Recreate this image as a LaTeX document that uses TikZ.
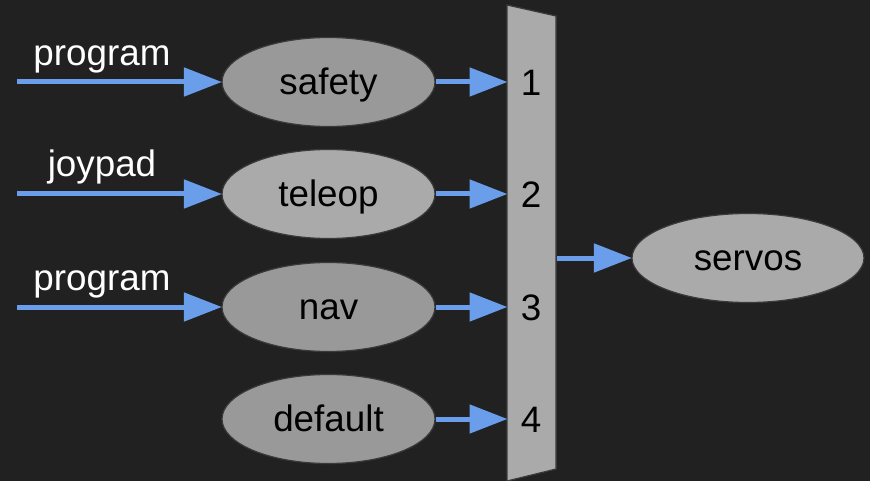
\documentclass[tikz,border=0pt]{standalone}
\usepackage{fontspec}
\setmainfont{Liberation Sans}
\usetikzlibrary{shapes.geometric,arrows.meta}
\definecolor{bg}{HTML}{212121}
\definecolor{darkg}{HTML}{999999}
\definecolor{lightg}{HTML}{AAAAAA}
\definecolor{edgeg}{HTML}{3A3A3A}
\definecolor{arrowblue}{HTML}{6A9EEB}
\tikzset{
  blob/.style={ellipse, draw=edgeg, line width=1.2pt, minimum width=213pt, minimum height=89pt, inner sep=0pt, text=black, text height=25pt, text depth=0pt},
  conn/.style={draw=arrowblue, line width=5pt, -{Triangle[length=38pt,width=28pt]}, shorten >=-0.5pt},
  lbl/.style={text=white, anchor=base, inner sep=0pt},
  num/.style={text=black, inner sep=0pt},
}
\begin{document}
\begin{tikzpicture}[x=1pt,y=-1pt, font=\fontsize{36.8}{44}\selectfont]
\fill[bg] (0,0) rectangle (870,481);
\useasboundingbox (0,0) rectangle (870,481);
% mux
\draw[fill=lightg, draw=edgeg, line width=1.2pt] (507,5) -- (556,16) -- (556,469) -- (507,481) -- cycle;
\coordinate (m1) at (507,82);
\coordinate (m2) at (507,194);
\coordinate (m3) at (507,307);
\coordinate (m4) at (507,419);
\coordinate (mout) at (557,258);
\node[num] (n1) at (531,83) {1};
\node[num] (n2) at (531,195) {2};
\node[num] (n3) at (531,308) {3};
\node[num] (n4) at (531,420) {4};
% ellipses
\node[blob, fill=darkg] (safety) at (328.5,82) {safety};
\node[blob, fill=lightg] (teleop) at (328.5,194) {teleop};
\node[blob, fill=darkg] (nav) at (328.5,307) {nav};
\node[blob, fill=darkg] (default) at (328.5,419) {default};
\node[blob, minimum width=232pt, fill=lightg] (servos) at (748,258) {servos};
% inputs
\coordinate (i1) at (17,82);
\coordinate (i2) at (17,194);
\coordinate (i3) at (17,307);
\draw[conn] (i1) -- (safety.west);
\draw[conn] (i2) -- (teleop.west);
\draw[conn] (i3) -- (nav.west);
\node[lbl] (l1) at (102,66) {program};
\node[lbl] (l2) at (102,177) {joypad};
\node[lbl] (l3) at (102,290) {program};
% to mux
\draw[conn] (safety.east) -- (m1);
\draw[conn] (teleop.east) -- (m2);
\draw[conn] (nav.east) -- (m3);
\draw[conn] (default.east) -- (m4);
\draw[conn] (mout) -- (servos.west);
\end{tikzpicture}
\end{document}
